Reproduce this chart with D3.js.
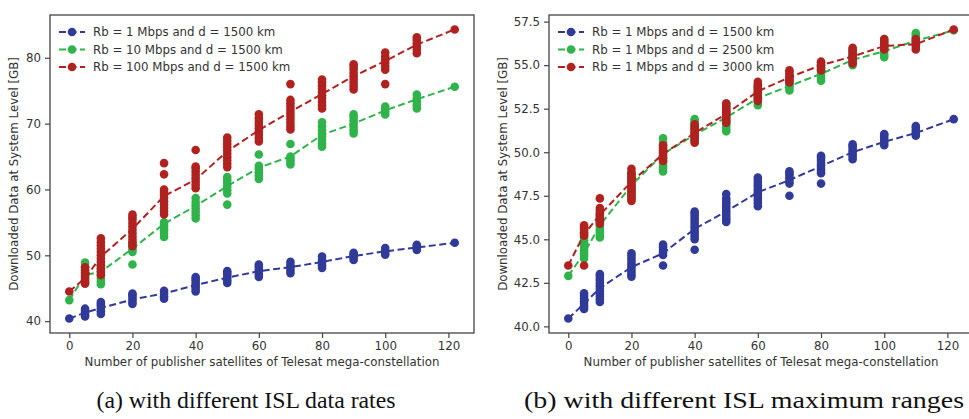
<!DOCTYPE html>
<html>
<head>
<meta charset="utf-8">
<script src="https://cdn.jsdelivr.net/npm/d3@7"></script>
<style>
  body { margin: 0; background: #fff; }
  text { font-family: "DejaVu Sans", sans-serif; fill: #333; }
  .caption { font-family: "Liberation Serif", serif; fill: #111; }
</style>
</head>
<body>
<script>
// x positions (number of publisher satellites)
const xVals = [0, 5, 10, 20, 30, 40, 50, 60, 70, 80, 90, 100, 110, 122];
const xTicks = [0, 20, 40, 60, 80, 100, 120];

// (a) different ISL data rates - individual runs per x
const blueA = [
  [40.4],
  [40.7, 41.0, 41.3, 41.6, 41.9],
  [41.1, 41.5, 41.9, 42.3, 42.6, 42.9],
  [42.6, 42.9, 43.3, 43.7, 44.0, 44.2],
  [43.4, 43.8, 44.2, 44.6],
  [44.5, 44.9, 45.3, 45.7, 46.1, 46.4, 46.7],
  [45.8, 46.2, 46.6, 47.0, 47.3, 47.6],
  [46.7, 47.1, 47.5, 47.9, 48.3, 48.6],
  [47.3, 47.7, 48.1, 48.5, 49.0],
  [48.1, 48.5, 48.9, 49.3, 49.8],
  [49.3, 49.6, 49.9, 50.2, 50.4],
  [50.1, 50.4, 50.7, 51.1],
  [50.8, 51.1, 51.4, 51.6],
  [51.9]
];
const greenA = [
  [43.2],
  [45.8, 46.3, 46.8, 47.3, 47.8, 48.3, 48.9],
  [45.6, 46.0, 46.5, 47.0, 47.5, 48.0, 48.5],
  [48.6, 50.5, 50.9, 51.3, 51.7, 52.0],
  [52.8, 53.3, 53.8, 54.2, 54.6, 55.0],
  [55.6, 56.1, 56.6, 57.1, 57.6, 58.1, 58.7],
  [57.7, 59.4, 59.9, 60.4, 60.9, 61.4, 61.9],
  [61.6, 62.1, 62.6, 63.1, 63.6, 65.3],
  [63.8, 64.2, 64.6, 65.0, 66.9],
  [66.5, 67.0, 67.5, 68.0, 68.5, 69.0, 69.6, 70.2],
  [68.5, 69.0, 69.5, 70.0, 70.5, 71.0, 71.4],
  [71.4, 71.8, 72.2, 72.6],
  [72.3, 72.8, 73.3, 73.8, 74.4],
  [75.6]
];
const redA = [
  [44.5],
  [45.7, 46.1, 46.5, 46.9, 47.3, 47.7, 48.2],
  [47.0, 47.5, 48.0, 48.5, 49.0, 49.5, 50.0, 50.5, 51.0, 51.5, 52.0, 52.6],
  [51.4, 51.9, 52.4, 52.9, 53.4, 53.9, 54.4, 54.9, 55.4, 55.8, 56.2],
  [56.2, 56.7, 57.2, 57.7, 58.2, 58.7, 59.2, 59.6, 60.0, 62.3, 64.0],
  [60.2, 60.7, 61.2, 61.7, 62.2, 62.7, 63.2, 63.5, 66.0],
  [63.4, 63.9, 64.4, 64.9, 65.4, 65.9, 66.4, 66.9, 67.4, 67.9],
  [67.3, 67.8, 68.3, 68.8, 69.3, 69.8, 70.3, 70.8, 71.4],
  [69.1, 69.6, 70.1, 70.6, 71.1, 71.6, 72.1, 72.6, 73.1, 73.6, 76.0],
  [72.3, 72.8, 73.3, 73.8, 74.3, 74.8, 75.3, 75.8, 76.3, 76.7],
  [75.2, 75.7, 76.2, 76.7, 77.2, 77.7, 78.2, 78.6, 79.0],
  [76.0, 78.2, 78.7, 79.2, 79.7, 80.2, 80.8],
  [80.7, 81.2, 81.7, 82.2, 82.7, 83.1],
  [84.3]
];
// (a) mean curves (dashed lines)
const blueAMean = [40.4, 41.3, 42.0, 43.3, 44.2, 45.5, 46.6, 47.6, 48.2, 49.0, 49.9, 50.6, 51.2, 51.9];
const greenAMean = [43.2, 47.0, 47.5, 51.0, 54.8, 57.5, 60.5, 63.3, 65.0, 68.3, 70.0, 72.0, 73.7, 75.6];
const redAMean = [44.5, 46.5, 49.8, 54.0, 59.0, 61.5, 65.8, 69.0, 71.8, 74.5, 77.2, 79.5, 82.0, 84.3];

// (b) different ISL maximum ranges
const blueB = [
  [40.45],
  [41.0, 41.15, 41.3, 41.45, 41.6, 41.75, 41.9],
  [41.4, 41.55, 41.7, 41.85, 42.0, 42.15, 42.3, 42.45, 42.6, 42.75, 42.9, 43.0],
  [42.85, 43.0, 43.15, 43.3, 43.45, 43.6, 43.75, 43.9, 44.05, 44.2],
  [43.5, 44.1, 44.25, 44.4, 44.55, 44.7],
  [44.4, 45.0, 45.15, 45.3, 45.45, 45.6, 45.75, 45.9, 46.05, 46.2, 46.35, 46.5, 46.6],
  [46.0, 46.15, 46.3, 46.45, 46.6, 46.75, 46.9, 47.05, 47.2, 47.35, 47.6],
  [46.9, 47.05, 47.2, 47.35, 47.5, 47.65, 47.8, 47.95, 48.1, 48.25, 48.4, 48.55],
  [47.5, 48.2, 48.35, 48.5, 48.65, 48.8, 48.9],
  [48.2, 48.8, 48.95, 49.1, 49.25, 49.4, 49.55, 49.7, 49.8],
  [49.6, 49.75, 49.9, 50.05, 50.2, 50.35, 50.45],
  [50.4, 50.55, 50.7, 50.85, 51.0, 51.05],
  [50.95, 51.1, 51.25, 51.4, 51.5],
  [51.9]
];
const greenB = [
  [42.9],
  [43.9, 44.05, 44.2, 44.35, 44.5, 44.65, 44.8, 44.95, 45.1, 45.25, 45.4],
  [45.1, 45.25, 45.4, 45.55, 45.7, 45.85, 46.0, 46.15, 46.3, 46.45],
  [47.3, 47.45, 47.6, 47.75, 47.9, 48.05, 48.2, 48.35, 48.5, 48.65, 48.8],
  [48.9, 49.05, 49.2, 49.35, 49.5, 49.65, 49.8, 49.95, 50.1, 50.25, 50.4, 50.55, 50.8],
  [50.6, 50.75, 50.9, 51.05, 51.2, 51.35, 51.5, 51.65, 51.8, 51.9],
  [51.2, 51.35, 51.5, 51.65, 51.8, 51.95, 52.1, 52.25, 52.4, 52.55, 52.7, 52.8],
  [52.7, 52.85, 53.0, 53.15, 53.3, 53.45, 53.6, 53.75, 53.9],
  [53.55, 53.7, 53.85, 54.0, 54.15, 54.3],
  [54.1, 54.25, 54.4, 54.55, 54.7, 54.85, 55.0],
  [55.0, 55.15, 55.3, 55.45, 55.6, 55.75, 55.9],
  [55.45, 55.6, 55.75, 55.9, 56.05, 56.2, 56.35, 56.5],
  [56.3, 56.45, 56.6, 56.75, 56.85],
  [57.0]
];
const redB = [
  [43.5],
  [43.5, 45.2, 45.35, 45.5, 45.65, 45.8],
  [45.9, 46.05, 46.2, 46.35, 46.5, 46.65, 46.8, 47.35],
  [47.2, 47.35, 47.5, 47.65, 47.8, 47.95, 48.1, 48.25, 48.4, 48.55, 48.7, 48.85, 49.05],
  [49.5, 49.65, 49.8, 49.95, 50.1, 50.25, 50.4],
  [50.55, 50.7, 50.85, 51.0, 51.15, 51.3, 51.45, 51.6],
  [51.7, 51.85, 52.0, 52.15, 52.3, 52.45, 52.6, 52.8],
  [52.95, 53.1, 53.25, 53.4, 53.55, 53.7, 53.85, 54.05],
  [54.0, 54.15, 54.3, 54.45, 54.6, 54.7],
  [54.7, 54.85, 55.0, 55.15, 55.2],
  [55.1, 55.25, 55.4, 55.55, 55.7, 55.85, 56.0],
  [55.9, 56.05, 56.2, 56.35, 56.5],
  [55.9, 56.05, 56.2, 56.35, 56.5],
  [57.05]
];
const blueBMean = [40.45, 41.3, 42.2, 43.4, 44.2, 45.6, 46.6, 47.7, 48.4, 49.2, 50.0, 50.6, 51.1, 51.9];
const greenBMean = [42.9, 44.2, 45.8, 48.1, 49.9, 51.0, 52.0, 53.1, 53.8, 54.5, 55.3, 55.8, 56.4, 57.0];
const redBMean = [43.5, 45.3, 46.4, 48.3, 49.9, 51.1, 52.2, 53.5, 54.3, 55.0, 55.5, 56.1, 56.2, 57.05];

const labelsA = ["Rb = 1 Mbps and d = 1500 km", "Rb = 10 Mbps and d = 1500 km", "Rb = 100 Mbps and d = 1500 km"];
const labelsB = ["Rb = 1 Mbps and d = 1500 km", "Rb = 1 Mbps and d = 2500 km", "Rb = 1 Mbps and d = 3000 km"];
const yTicksA = [40, 50, 60, 70, 80];
const yTicksB = [40, 42.5, 45, 47.5, 50, 52.5, 55, 57.5];

const colors = ["#303a98", "#2fb34a", "#b0221f"];

const W = 969, H = 419;
const svg = d3.select("body").append("svg")
  .attr("width", W).attr("height", H);
svg.append("rect").attr("width", W).attr("height", H).attr("fill", "#fff");

// Функция рисования одной панели
function drawPanel(p) {
  const g = svg.append("g");

  // matplotlib-style 5% margins
  const allY = p.runs.flat(2);
  const yMin = d3.min(allY), yMax = d3.max(allY);
  const yPad = (yMax - yMin) * 0.05;
  const xPad = (d3.max(xVals) - d3.min(xVals)) * 0.05;

  const x = d3.scaleLinear()
    .domain([d3.min(xVals) - xPad, d3.max(xVals) + xPad])
    .range([p.left, p.right]);
  const y = d3.scaleLinear()
    .domain([yMin - yPad, yMax + yPad])
    .range([p.bottom, p.top]);

  // axes
  const xAxis = g.append("g")
    .attr("transform", `translate(0,${p.bottom})`)
    .call(d3.axisBottom(x).tickValues(xTicks).tickSize(5).tickPadding(4).tickFormat(d3.format("d")));
  const yAxis = g.append("g")
    .attr("transform", `translate(${p.left},0)`)
    .call(d3.axisLeft(y).tickValues(p.yTicks).tickSize(5).tickPadding(4).tickFormat(d3.format(p.yFormat)));
  [xAxis, yAxis].forEach(a => {
    a.select(".domain").remove();
    a.selectAll(".tick line").attr("stroke", "#444").attr("stroke-width", 1.2);
    a.selectAll(".tick text").attr("fill", "#333").style("font-size", "11.8px");
  });

  // frame
  g.append("rect")
    .attr("x", p.left).attr("y", p.top)
    .attr("width", p.right - p.left).attr("height", p.bottom - p.top)
    .attr("fill", "none").attr("stroke", "#444").attr("stroke-width", 1.3);

  // series: runs + mean line
  const clipId = "clip" + p.id;
  g.append("clipPath").attr("id", clipId).append("rect")
    .attr("x", p.left).attr("y", p.top)
    .attr("width", p.right - p.left).attr("height", p.bottom - p.top);
  const plot = g.append("g").attr("clip-path", `url(#${clipId})`);

  const line = d3.line().x((d, i) => x(xVals[i])).y(d => y(d));

  p.runs.forEach((runs, s) => {
    const pts = [];
    runs.forEach((vals, i) => vals.forEach(v => pts.push([xVals[i], v])));
    plot.append("g").selectAll("circle")
      .data(pts)
      .join("circle")
      .attr("cx", d => x(d[0]))
      .attr("cy", d => y(d[1]))
      .attr("r", 4.3)
      .attr("fill", colors[s]);
    plot.append("path")
      .datum(p.means[s])
      .attr("d", line)
      .attr("fill", "none")
      .attr("stroke", colors[s])
      .attr("stroke-width", 2)
      .attr("stroke-dasharray", "7,3.5");
  });

  // legend
  const leg = g.append("g").attr("transform", `translate(${p.left + 9},${p.top + 17})`);
  p.labels.forEach((lab, i) => {
    const row = leg.append("g").attr("transform", `translate(0,${i * 17.5})`);
    row.append("line")
      .attr("x1", 0).attr("x2", 26)
      .attr("stroke", colors[i]).attr("stroke-width", 2)
      .attr("stroke-dasharray", "7,3.5");
    row.append("circle").attr("cx", 13).attr("r", 4.3).attr("fill", colors[i]);
    row.append("text")
      .attr("x", 34).attr("dy", "0.35em")
      .style("font-size", "11.8px")
      .text(lab);
  });

  // axis titles
  g.append("text")
    .attr("x", (p.left + p.axisRight) / 2).attr("y", 366)
    .attr("text-anchor", "middle")
    .style("font-size", "11.8px")
    .text("Number of publisher satellites of Telesat mega-constellation");
  g.append("text")
    .attr("transform", `translate(${p.yLabelX},${(p.top + p.bottom) / 2}) rotate(-90)`)
    .attr("text-anchor", "middle")
    .style("font-size", "11.8px")
    .text("Downloaded Data at System Level [GB]");

  // caption
  g.append("text")
    .attr("class", "caption")
    .attr("x", p.capX).attr("y", 408)
    .attr("text-anchor", "middle")
    .attr("textLength", p.capW)
    .attr("lengthAdjust", "spacingAndGlyphs")
    .style("font-size", "24px")
    .text(p.caption);
}

drawPanel({
  id: "a", left: 50, right: 474, axisRight: 474, top: 15, bottom: 333,
  runs: [blueA, greenA, redA], means: [blueAMean, greenAMean, redAMean],
  labels: labelsA, yTicks: yTicksA, yFormat: "d", yLabelX: 18,
  caption: "(a) with different ISL data rates", capX: 246, capW: 299
});
drawPanel({
  id: "b", left: 549, right: 973, axisRight: 973, top: 15, bottom: 333,
  runs: [blueB, greenB, redB], means: [blueBMean, greenBMean, redBMean],
  labels: labelsB, yTicks: yTicksB, yFormat: ".1f", yLabelX: 507,
  caption: "(b) with different ISL maximum ranges", capX: 744, capW: 440
});
</script>
</body>
</html>
